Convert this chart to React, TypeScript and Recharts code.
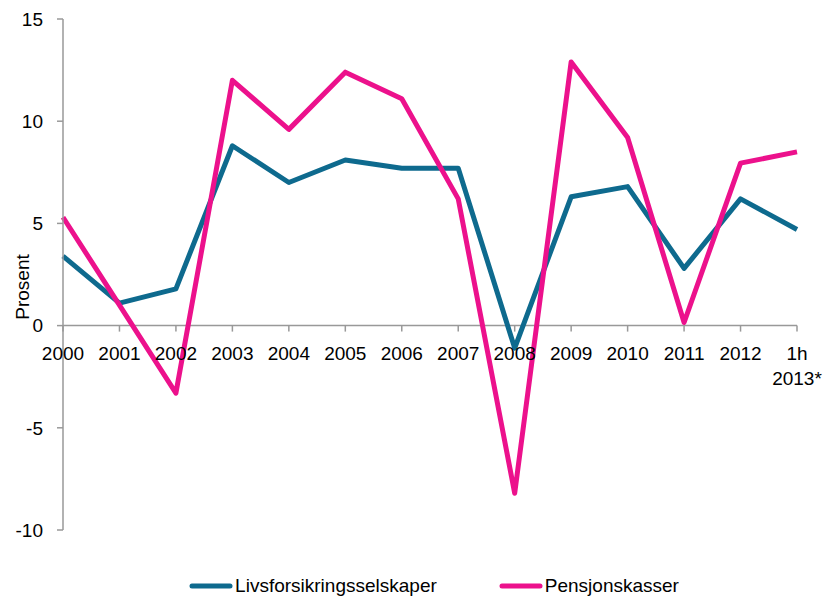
import React from "react";
import { LineChart, Line, XAxis, YAxis, ReferenceLine, Legend } from "recharts";

const categories = ["2000", "2001", "2002", "2003", "2004", "2005", "2006", "2007", "2008", "2009", "2010", "2011", "2012", "1h\n2013*"];
const livsforsikring = [3.4, 1.1, 1.8, 8.8, 7.0, 8.1, 7.7, 7.7, -1.1, 6.3, 6.8, 2.8, 6.2, 4.7];
const pensjonskasser = [5.3, 1.0, -3.3, 12.0, 9.6, 12.4, 11.1, 6.2, -8.2, 12.9, 9.2, 0.15, 7.95, 8.5];
const yTicks = [-10, -5, 0, 5, 10, 15];

const data = categories.map((c, i) => ({
  year: c,
  livs: livsforsikring[i],
  pensjon: pensjonskasser[i],
}));

const W = 827;
const H = 603;
const TOP = 19;
const PLOT_H = 511;
const Y_MIN = -10;
const Y_MAX = 15;
const zeroY = TOP + (PLOT_H * Y_MAX) / (Y_MAX - Y_MIN);
const AXIS = "#999999";
const FONT = "Liberation Sans, Arial, sans-serif";
const FS = 19;

const XTick = (props: any) => {
  const { x, payload } = props;
  const lines = String(payload.value).split("\n");
  return (
    <g>
      <line x1={x} x2={x} y1={zeroY} y2={zeroY + 6} stroke={AXIS} strokeWidth={1.5} />
      <text x={x} y={zeroY + 34} textAnchor="middle" fontSize={FS} fill="#000" fontFamily={FONT}>
        {lines.map((l, i) => (
          <tspan key={i} x={x} dy={i === 0 ? 0 : 25}>
            {l}
          </tspan>
        ))}
      </text>
    </g>
  );
};

const LegendContent = (props: any) => {
  const { payload } = props;
  return (
    <div
      style={{
        display: "flex",
        justifyContent: "center",
        fontFamily: FONT,
        fontSize: FS,
        color: "#000",
        paddingTop: 15,
        paddingLeft: 71,
      }}
    >
      {payload.map((p: any, i: number) => (
        <div key={i} style={{ display: "flex", alignItems: "center", marginLeft: i === 0 ? 0 : 62 }}>
          <svg width={44} height={10} style={{ marginRight: 2 }}>
            <line x1={3} x2={41} y1={5} y2={5} stroke={p.color} strokeWidth={5} strokeLinecap="round" />
          </svg>
          <span>{p.value}</span>
        </div>
      ))}
    </div>
  );
};

export default function App() {
  return (
    <div style={{ position: "absolute", left: 0, top: 0, background: "#fff" }}>
      <LineChart width={W} height={H} data={data} margin={{ top: TOP, right: 30, left: 0, bottom: 0 }}>
        <XAxis
          dataKey="year"
          axisLine={false}
          tickLine={false}
          tick={<XTick />}
          interval={0}
          height={30}
        />
        <YAxis
          domain={[Y_MIN, Y_MAX]}
          ticks={yTicks}
          width={63}
          axisLine={{ stroke: AXIS, strokeWidth: 1.5 }}
          tickLine={{ stroke: AXIS, strokeWidth: 1.5 }}
          tickSize={6}
          tickMargin={14}
          tick={{ fontSize: FS, fill: "#000", fontFamily: FONT }}
          label={{
            content: () => (
              <text
                x={29}
                y={287}
                transform="rotate(-90, 29, 287)"
                textAnchor="middle"
                fontSize={FS}
                fill="#000"
                fontFamily={FONT}
              >
                Prosent
              </text>
            ),
          }}
        />
        <ReferenceLine y={0} stroke={AXIS} strokeWidth={1.5} />
        <Line
          dataKey="livs"
          name="Livsforsikringsselskaper"
          stroke="#0E6A8E"
          strokeWidth={5}
          strokeLinejoin="round"
          dot={false}
          isAnimationActive={false}
        />
        <Line
          dataKey="pensjon"
          name="Pensjonskasser"
          stroke="#EC118C"
          strokeWidth={5}
          strokeLinejoin="round"
          dot={false}
          isAnimationActive={false}
        />
        <Legend verticalAlign="bottom" height={43} content={<LegendContent />} />
      </LineChart>
    </div>
  );
}
